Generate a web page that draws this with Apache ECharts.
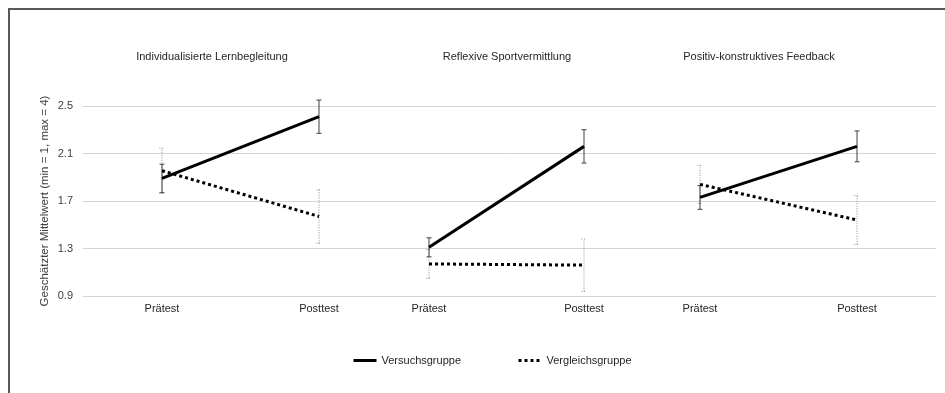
<!DOCTYPE html>
<html>
<head>
<meta charset="utf-8">
<script src="https://cdn.jsdelivr.net/npm/echarts@6/dist/echarts.min.js"></script>
<style>
  html, body { margin: 0; padding: 0; background: #fff; }
  #chart { width: 945px; height: 393px; }
</style>
</head>
<body>
<div id="chart"></div>
<script>
// Estimated means (scale 1-4) per facet, for the two measurement points
const timepoints = ['Prätest', 'Posttest'];
const facetTitles = ['Individualisierte Lernbegleitung', 'Reflexive Sportvermittlung', 'Positiv-konstruktives Feedback'];
const groupNames = ['Versuchsgruppe', 'Vergleichsgruppe'];

const versuchMeans = [[1.89, 2.41], [1.31, 2.16], [1.73, 2.16]];
const versuchErr = [[0.12, 0.14], [0.08, 0.14], [0.10, 0.13]];
const vergleichMeans = [[1.955, 1.57], [1.17, 1.16], [1.84, 1.54]];
const vergleichErr = [[0.19, 0.225], [0.12, 0.22], [0.16, 0.205]];

const yTicks = [0.9, 1.3, 1.7, 2.1, 2.5];
const yAxisTitle = 'Geschätzter Mittelwert (min = 1, max = 4)';

const FONT = 'Liberation Sans, Arial, sans-serif';
const yMin = yTicks[0], yMax = yTicks[yTicks.length - 1], yStep = yTicks[1] - yTicks[0];

// Plot area shared by all facets (gridlines + y axis)
const plotTop = 106, plotHeight = 190;
// Horizontal extent of each facet: from Prätest to Posttest
const facetBox = [{ left: 162, width: 157 }, { left: 429, width: 155 }, { left: 700, width: 157 }];
const titleCenters = [212, 507, 759];

const grids = [{ left: 83, top: plotTop, width: 853, height: plotHeight }];
const xAxes = [{ gridIndex: 0, type: 'value', show: false, min: 0, max: 1 }];
const yAxes = [{
  gridIndex: 0, type: 'value', min: yMin, max: yMax, interval: yStep,
  axisLine: { show: false }, axisTick: { show: false },
  axisLabel: { color: '#404040', fontFamily: FONT, fontSize: 11, margin: 10,
    formatter: v => v.toFixed(1) },
  splitLine: { lineStyle: { color: '#d4d4d4', width: 1 } },
  name: yAxisTitle, nameLocation: 'middle', nameGap: 32, nameMoveOverlap: false,
  nameTextStyle: { color: '#404040', fontFamily: FONT, fontSize: 11.5 }
}];
const series = [];

function errorBarSeries(gi, means, errs, dotted) {
  return {
    type: 'custom', xAxisIndex: gi, yAxisIndex: gi, z: 3,
    data: means.map((m, i) => [i, m - errs[i], m + errs[i]]),
    renderItem: function (params, api) {
      const lo = api.coord([api.value(0), api.value(1)]);
      const hi = api.coord([api.value(0), api.value(2)]);
      const cap = 2.5;
      const style = {
        stroke: dotted ? '#8c8c8c' : '#404040',
        lineWidth: 1,
        lineDash: dotted ? [1, 1.5] : null,
        fill: null
      };
      return {
        type: 'group',
        children: [
          { type: 'line', shape: { x1: lo[0], y1: lo[1], x2: hi[0], y2: hi[1] }, style: style },
          { type: 'line', shape: { x1: lo[0] - cap, y1: lo[1], x2: lo[0] + cap, y2: lo[1] }, style: style },
          { type: 'line', shape: { x1: hi[0] - cap, y1: hi[1], x2: hi[0] + cap, y2: hi[1] }, style: style }
        ]
      };
    }
  };
}

for (let f = 0; f < 3; f++) {
  const gi = f + 1;
  grids.push({ left: facetBox[f].left, width: facetBox[f].width, top: plotTop, height: plotHeight });
  xAxes.push({
    gridIndex: gi, type: 'category', data: timepoints, boundaryGap: false,
    axisLine: { show: false }, axisTick: { show: false }, splitLine: { show: false },
    axisLabel: { color: '#262626', fontFamily: FONT, fontSize: 11, margin: 7 }
  });
  yAxes.push({ gridIndex: gi, type: 'value', min: yMin, max: yMax, show: false, splitLine: { show: false } });

  series.push(errorBarSeries(gi, vergleichMeans[f], vergleichErr[f], true));
  series.push(errorBarSeries(gi, versuchMeans[f], versuchErr[f], false));
  series.push({
    name: groupNames[1], type: 'line', xAxisIndex: gi, yAxisIndex: gi, z: 4,
    data: vergleichMeans[f], symbol: 'none', silent: true,
    itemStyle: { color: '#000' },
    lineStyle: { color: '#000', width: 3, type: [3, 3] }
  });
  series.push({
    name: groupNames[0], type: 'line', xAxisIndex: gi, yAxisIndex: gi, z: 5,
    data: versuchMeans[f], symbol: 'none', silent: true,
    itemStyle: { color: '#000' },
    lineStyle: { color: '#000', width: 3, type: 'solid' }
  });
}

const chart = echarts.init(document.getElementById('chart'), null, { renderer: 'canvas' });
chart.setOption({
  animation: false,
  backgroundColor: '#fff',
  title: facetTitles.map((t, i) => ({
    text: t, left: titleCenters[i], top: 51, textAlign: 'center',
    textStyle: { color: '#262626', fontFamily: FONT, fontSize: 11, fontWeight: 'normal' },
    padding: 0
  })),
  legend: {
    data: groupNames, left: 347, top: 350,
    itemWidth: 23, itemHeight: 10, itemGap: 56,
    itemStyle: { opacity: 0 },
    lineStyle: { width: 3 },
    textStyle: { color: '#262626', fontFamily: FONT, fontSize: 11 }
  },
  grid: grids,
  xAxis: xAxes,
  yAxis: yAxes,
  series: series,
  graphic: [{
    type: 'rect', silent: true, z: 100,
    shape: { x: 9, y: 9, width: 960, height: 420 },
    style: { fill: null, stroke: '#595959', lineWidth: 2 }
  }]
});
</script>
</body>
</html>
